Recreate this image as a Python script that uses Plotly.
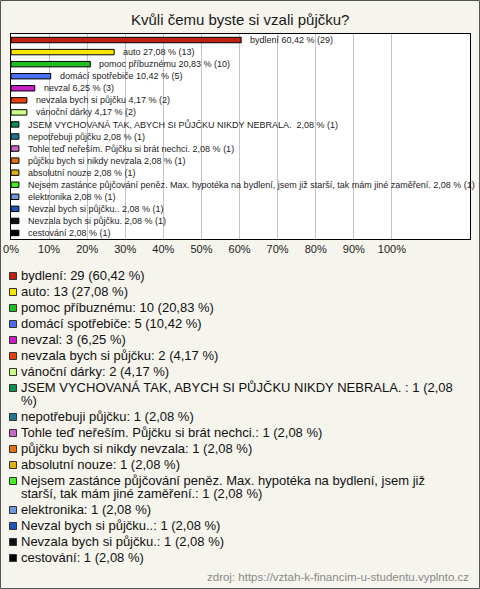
import plotly.graph_objects as go

# ---------------- data ----------------
title_text = "Kvůli čemu byste si vzali půjčku?"
categories = [
    "bydlení",
    "auto",
    "pomoc příbuznému",
    "domácí spotřebiče",
    "nevzal",
    "nevzala bych si půjčku",
    "vánoční dárky",
    "JSEM VYCHOVANÁ TAK, ABYCH SI PŮJČKU NIKDY NEBRALA. ",
    "nepotřebuji půjčku",
    "Tohle teď neřeším. Půjčku si brát nechci.",
    "půjčku bych si nikdy nevzala",
    "absolutní nouze",
    "Nejsem zastánce půjčování peněz. Max. hypotéka na bydlení, jsem již starší, tak mám jiné zaměření.",
    "elektronika",
    "Nevzal bych si půjčku..",
    "Nevzala bych si půjčku.",
    "cestování",
]
counts = [29, 13, 10, 5, 3, 2, 2, 1, 1, 1, 1, 1, 1, 1, 1, 1, 1]
percents = [60.42, 27.08, 20.83, 10.42, 6.25, 4.17, 4.17,
            2.08, 2.08, 2.08, 2.08, 2.08, 2.08, 2.08, 2.08, 2.08, 2.08]
colors = [
    "#bf2010", "#f8e600", "#1fbf1f", "#4a6ef0", "#c81ec8", "#e5400f",
    "#ccff88", "#0f8f4f", "#1f7890", "#c866c8", "#e57010", "#e0b010",
    "#44ee22", "#6a9be0", "#2255bb", "#111111", "#000000",
]
tick_values = [0, 10, 20, 30, 40, 50, 60, 70, 80, 90, 100]
tick_labels = [f"{v}%" for v in tick_values]
legend_breaks = {7: "(2,08 ", 12: "jsem již "}   # where long legend rows wrap
source_text = "zdroj: https://vztah-k-financim-u-studentu.vyplnto.cz"

# ---------------- layout geometry ----------------
W, H = 480, 589
L, R, T, B = 11, 10, 34, 350
PW, PH = W - L - R, H - T - B


def px_x(x):
    return (x - L) / PW


def px_y(y):
    return (H - B - y) / PH


def fmt(p):
    return f"{p:.2f}".replace(".", ",")


FONT = "Liberation Sans, Arial, sans-serif"

fig = go.Figure()
fig.add_trace(go.Bar(
    x=percents, y=categories, orientation="h",
    marker=dict(color=colors, line=dict(color="#000000", width=1)),
    width=0.45, hoverinfo="skip", showlegend=False,
))

annotations = []
# bar value labels
for c, n, p in zip(categories, counts, percents):
    annotations.append(dict(
        x=p, y=c, xref="x", yref="y", xanchor="left", yanchor="middle",
        xshift=7, showarrow=False, text=f"{c} {fmt(p)} % ({n})",
        font=dict(size=9, color="#222222", family=FONT),
    ))

# title
annotations.append(dict(
    x=px_x(240), y=px_y(20), xref="paper", yref="paper",
    xanchor="center", yanchor="middle", showarrow=False, text=title_text,
    font=dict(size=15, color="#1a1a1a", family=FONT),
))

# legend (manual)
shapes = []
extra = 0
for i, (c, n, p, col) in enumerate(zip(categories, counts, percents, colors)):
    label = f"{c}: {n} ({fmt(p)} %)"
    if i in legend_breaks:
        k = label.index(legend_breaks[i]) + len(legend_breaks[i])
        lines = [label[:k].rstrip(), label[k:]]
    else:
        lines = [label]
    y0 = 275 + 16 * i + 13 * extra
    shapes.append(dict(
        type="rect", xref="paper", yref="paper",
        x0=px_x(9.5), x1=px_x(16.5), y0=px_y(y0 - 2.5), y1=px_y(y0 + 4.5),
        fillcolor=col, line=dict(color="#333333", width=1),
    ))
    for j, ln in enumerate(lines):
        annotations.append(dict(
            x=px_x(18.5), y=px_y(y0 + 13.5 * j), xref="paper", yref="paper",
            xanchor="left", yanchor="middle", showarrow=False, text=ln,
            font=dict(size=13, color="#111111", family=FONT),
        ))
    extra += len(lines) - 1

# source
annotations.append(dict(
    x=px_x(471), y=px_y(577), xref="paper", yref="paper",
    xanchor="right", yanchor="middle", showarrow=False, text=source_text,
    font=dict(size=11.5, color="#8a8a8a", family=FONT),
))

# outer frame
shapes.append(dict(
    type="rect", xref="paper", yref="paper",
    x0=px_x(0.5), x1=px_x(479.5), y0=px_y(0.5), y1=px_y(588.5),
    line=dict(color="#555555", width=1), fillcolor="rgba(0,0,0,0)",
))

fig.update_layout(
    width=W, height=H,
    margin=dict(l=L, r=R, t=T, b=B, pad=0, autoexpand=False),
    paper_bgcolor="#f5f4ed", plot_bgcolor="#ffffff",
    font=dict(family=FONT),
    bargap=0.55,
    annotations=annotations, shapes=shapes,
    xaxis=dict(
        range=[0, 120.5], tickvals=tick_values, ticktext=tick_labels,
        showgrid=True, gridcolor="#c4c4c4", gridwidth=1, zeroline=False,
        showline=True, mirror=True, linecolor="#000000", linewidth=1,
        ticks="", tickfont=dict(size=11, color="#222222", family=FONT),
        fixedrange=True, automargin=False,
    ),
    yaxis=dict(
        type="category", range=[len(categories) - 0.5, -0.5],
        showticklabels=False, showgrid=False, zeroline=False,
        showline=True, mirror=True, linecolor="#000000", linewidth=1,
        ticks="", fixedrange=True, automargin=False,
    ),
)

fig.write_html(
    "out.html",
    config={"displayModeBar": False},
    post_script="document.body.style.margin='0';document.body.style.padding='0';",
)
